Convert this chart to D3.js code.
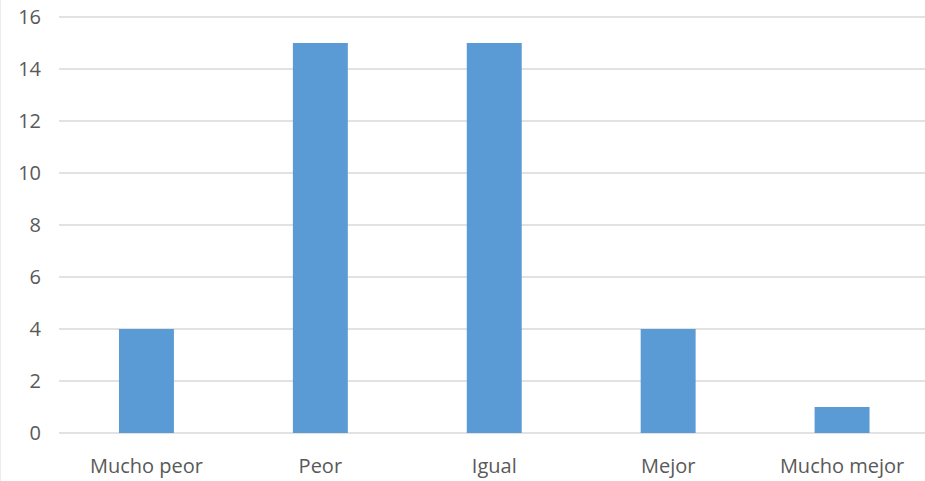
<!DOCTYPE html>
<html><head><meta charset="utf-8">
<script src="https://cdn.jsdelivr.net/npm/d3@7"></script>
<style>body{margin:0;background:#fff}svg{display:block}</style>
</head><body>
<svg id="c" width="925" height="481"></svg>
<script>
const categories = ["Mucho peor", "Peor", "Igual", "Mejor", "Mucho mejor"];
const values = [4, 15, 15, 4, 1];
const yTicks = [0, 2, 4, 6, 8, 10, 12, 14, 16];

const svg = d3.select("#c");
const x = d3.scaleBand().domain(categories).range([59.5, 929]).paddingInner(0.684).paddingOuter(0.342);
const y = d3.scaleLinear().domain([0, 16]).range([433, 17]);
const font = "'Open Sans', 'Noto Sans', sans-serif";

svg.append("line").attr("x1", 0.5).attr("x2", 0.5).attr("y1", 0).attr("y2", 481).attr("stroke", "#ececec");

svg.append("g").selectAll("line").data(yTicks).join("line")
  .attr("x1", 59).attr("x2", 925)
  .attr("y1", d => y(d)).attr("y2", d => y(d))
  .attr("stroke", "#d9d9d9").attr("stroke-width", 1.5);

svg.append("g").selectAll("text").data(yTicks).join("text")
  .attr("x", 41).attr("y", d => y(d)).attr("dy", "0.36em")
  .attr("text-anchor", "end").attr("fill", "#595959")
  .style("font-family", font).style("font-size", "20px")
  .text(d => d);

svg.append("g").selectAll("rect").data(values).join("rect")
  .attr("x", (d, i) => x(categories[i])).attr("width", x.bandwidth())
  .attr("y", d => y(d)).attr("height", d => y(0) - y(d))
  .attr("fill", "#5b9bd5");

svg.append("g").selectAll("text").data(categories).join("text")
  .attr("x", d => x(d) + x.bandwidth() / 2).attr("y", 473)
  .attr("text-anchor", "middle").attr("fill", "#595959")
  .style("font-family", font).style("font-size", "20px")
  .text(d => d);
</script>
</body></html>
